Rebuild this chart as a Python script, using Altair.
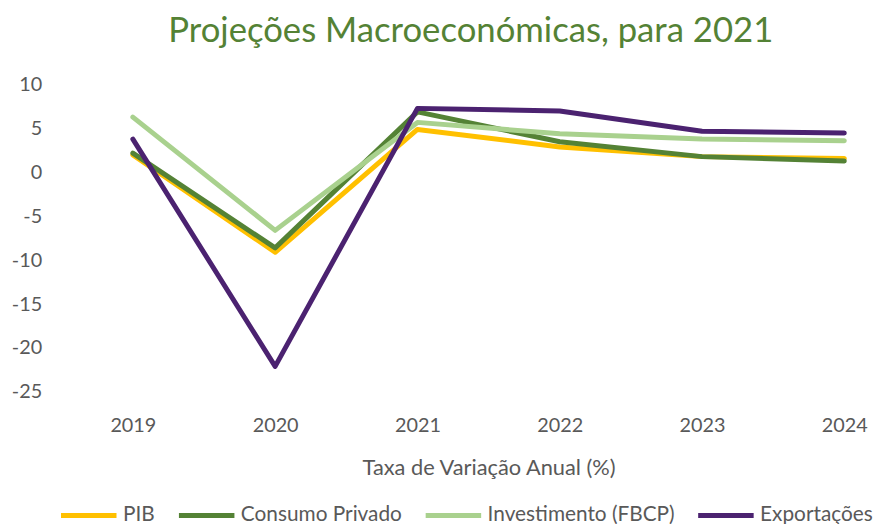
import altair as alt
import pandas as pd

years = ["2019", "2020", "2021", "2022", "2023", "2024"]
series_names = ["PIB", "Consumo Privado", "Investimento (FBCP)", "Exportações"]
pib = [2.0, -9.1, 4.9, 2.9, 1.8, 1.6]
consumo = [2.2, -8.6, 6.9, 3.5, 1.8, 1.3]
investimento = [6.3, -6.6, 5.7, 4.4, 3.8, 3.6]
exportacoes = [3.8, -22.1, 7.3, 7.0, 4.7, 4.5]
colors = ["#FFC000", "#548235", "#A9D18E", "#4B2270"]

rows = []
for name, vals in zip(series_names, [pib, consumo, investimento, exportacoes]):
    for y, v in zip(years, vals):
        rows.append({"Ano": y, "Série": name, "Valor": v})
df = pd.DataFrame(rows)

FONT = "Lato"
GRAY = "#595959"

base = alt.Chart(df)
layers = []
for name in series_names:
    layers.append(
        base.transform_filter(alt.datum["Série"] == name)
        .mark_line(strokeWidth=5, strokeCap="round", strokeJoin="round")
        .encode(
            x=alt.X("Ano:O", sort=years,
                    scale=alt.Scale(type="point", range=[72, 790], padding=0),
                    axis=alt.Axis(title="Taxa de Variação Anual (%)", labelAngle=0,
                                  labelFontSize=20, labelColor=GRAY, labelFont=FONT,
                                  titleFont=FONT, titleFontSize=22, titleColor=GRAY,
                                  titleFontWeight="normal",
                                  labelPadding=24, titlePadding=22,
                                  ticks=False, domain=False, grid=False)),
            y=alt.Y("Valor:Q",
                    scale=alt.Scale(domain=[-25, 10], nice=False, zero=False),
                    axis=alt.Axis(title=None, values=[-25, -20, -15, -10, -5, 0, 5, 10],
                                  labelExpr="replace(datum.label, '−', '-')",
                                  labelFontSize=20, labelColor=GRAY, labelFont=FONT,
                                  labelPadding=20, ticks=False, domain=False, grid=False)),
            color=alt.Color("Série:N",
                            scale=alt.Scale(domain=series_names, range=colors),
                            legend=alt.Legend(title=None, orient="none", direction="horizontal",
                                              legendX=-3, legendY=404,
                                              symbolType="stroke", symbolSize=3136,
                                              symbolStrokeWidth=5, labelFontSize=21,
                                              labelFont=FONT, labelColor=GRAY,
                                              labelOffset=4, columnPadding=13,
                                              labelLimit=400)),
        )
    )

chart = alt.layer(*layers).properties(
    width=826,
    height=310,
    autosize=alt.AutoSizeParams(type="none"),
    padding={"left": 54, "top": 75, "right": 0, "bottom": 131},
    title=alt.Title("Projeções Macroeconómicas, para 2021", font=FONT, fontSize=35,
                    color="#548235", fontWeight="normal", anchor="middle", offset=26),
).configure_view(stroke=None)

chart.save("out.html", embed_options={"renderer": "svg", "actions": False})
